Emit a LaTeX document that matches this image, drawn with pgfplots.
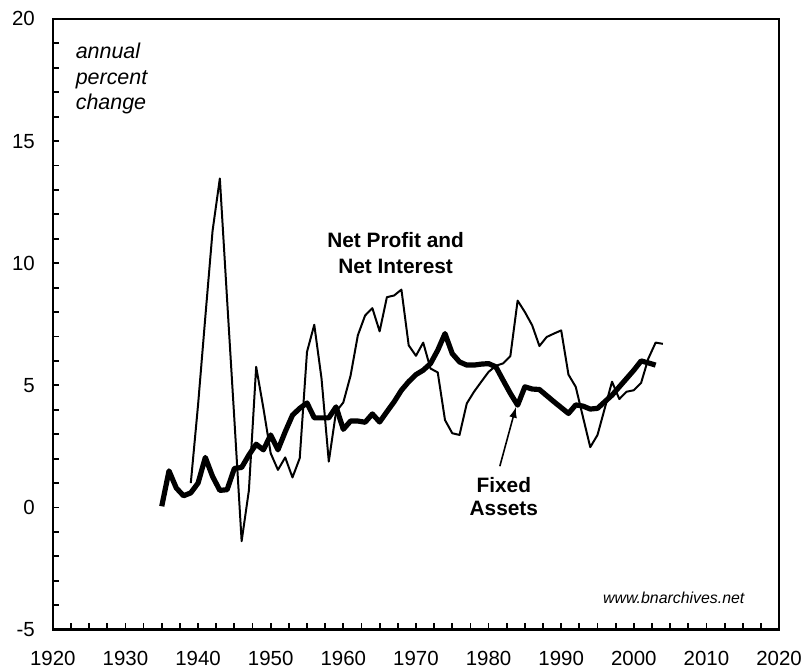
\documentclass[border=0pt]{standalone}
\usepackage{fontspec}
\setmainfont{Liberation Sans}
\usepackage{pgfplots}
\pgfplotsset{compat=1.18}
\begin{document}
\begin{tikzpicture}
  \begin{axis}[
    scale only axis,
    width=364.5bp,
    height=306.5bp,
    xmin=1920, xmax=2020,
    ymin=-5, ymax=20,
    xtick={1920,1930,...,2020},
    ytick={-5,0,5,10,15,20},
    minor x tick num=3,
    minor y tick num=4,
    xtick pos=bottom,
    ytick pos=left,
    tick align=inside,
    major tick length=3.2bp,
    minor tick length=3.2bp,
    tick style={black,line width=0.9bp},
    axis line style={line width=1.2bp},
    xticklabel style={yshift=-7.5bp},
    yticklabel style={xshift=-5.5bp},
    tick label style={font=\fontsize{10.3}{12}\selectfont},
    /pgf/number format/assume math mode=true,
    /pgf/number format/1000 sep={},
    clip=false,
  ]
    % Net profit and net interest
    \addplot[black,line width=1bp,line join=round] coordinates {
      (1939,1.0) (1940,4.2) (1941,7.8) (1942,11.33) (1943,13.47)
      (1944,8.5) (1945,3.6) (1946,-1.38) (1947,0.7) (1948,5.76)
      (1949,4.06) (1950,2.22) (1951,1.54) (1952,2.05) (1953,1.23)
      (1954,2.02) (1955,6.37) (1956,7.48) (1957,5.28) (1958,1.88)
      (1959,3.92) (1960,4.3) (1961,5.4) (1962,7.05) (1963,7.86)
      (1964,8.16) (1965,7.21) (1966,8.61) (1967,8.68) (1968,8.92)
      (1969,6.64) (1970,6.21) (1971,6.75) (1972,5.69) (1973,5.53)
      (1974,3.58) (1975,3.04) (1976,2.97) (1977,4.26) (1978,4.74)
      (1979,5.15) (1980,5.55) (1981,5.8) (1982,5.9) (1983,6.2)
      (1984,8.47) (1985,8.0) (1986,7.46) (1987,6.61) (1988,6.98)
      (1989,7.12) (1990,7.25) (1991,5.44) (1992,4.94) (1993,3.7)
      (1994,2.47) (1995,2.97) (1996,4.06) (1997,5.15) (1998,4.44)
      (1999,4.74) (2000,4.8) (2001,5.1) (2002,6.1) (2003,6.75)
      (2004,6.7)
    };
    % Fixed assets
    \addplot[black,line width=2.6bp,line join=round] coordinates {
      (1935,0.05) (1936,1.5) (1937,0.8) (1938,0.48) (1939,0.6)
      (1940,1.0) (1941,2.05) (1942,1.27) (1943,0.7) (1944,0.73)
      (1945,1.6) (1946,1.64) (1947,2.15) (1948,2.59) (1949,2.36)
      (1950,2.97) (1951,2.36) (1952,3.1) (1953,3.78) (1954,4.06)
      (1955,4.28) (1956,3.67) (1957,3.67) (1958,3.67) (1959,4.12)
      (1960,3.2) (1961,3.54) (1962,3.54) (1963,3.49) (1964,3.83)
      (1965,3.5) (1966,3.92) (1967,4.33) (1968,4.8) (1969,5.15)
      (1970,5.44) (1971,5.62) (1972,5.89) (1973,6.44) (1974,7.12)
      (1975,6.3) (1976,5.96) (1977,5.83) (1978,5.83) (1979,5.87)
      (1980,5.89) (1981,5.76) (1982,5.21) (1983,4.67) (1984,4.19)
      (1985,4.94) (1986,4.85) (1987,4.83) (1988,4.58) (1989,4.33)
      (1990,4.09) (1991,3.85) (1992,4.2) (1993,4.15) (1994,4.03)
      (1995,4.06) (1996,4.33) (1997,4.6) (1998,4.94) (1999,5.28)
      (2000,5.62) (2001,6.0) (2002,5.92) (2003,5.83)
    };
    \node[anchor=north west,align=left,font=\fontsize{10.8}{12.9}\selectfont\itshape]
      at (axis cs:1922.2,19.3) {annual\\percent\\change};
    \node[align=center,font=\fontsize{10.5}{13.5}\selectfont\bfseries]
      at (axis cs:1967.2,10.42) {Net Profit and\\Net Interest};
    \node[align=center,font=\fontsize{10.5}{11.5}\selectfont\bfseries]
      at (axis cs:1982.1,0.45) {Fixed\\Assets};
    \draw[-latex,line width=0.8bp] (axis cs:1981.55,1.69) -- (axis cs:1983.75,4.1);
    \node[font=\fontsize{8}{9}\selectfont\itshape]
      at (axis cs:2005.5,-3.69) {www.bnarchives.net};
  \end{axis}
  \pgfresetboundingbox
  \path ([xshift=-26.5bp,yshift=-20.5bp]current axis.south west)
    rectangle ([xshift=12bp,yshift=9.5bp]current axis.north east);
\end{tikzpicture}
\end{document}
